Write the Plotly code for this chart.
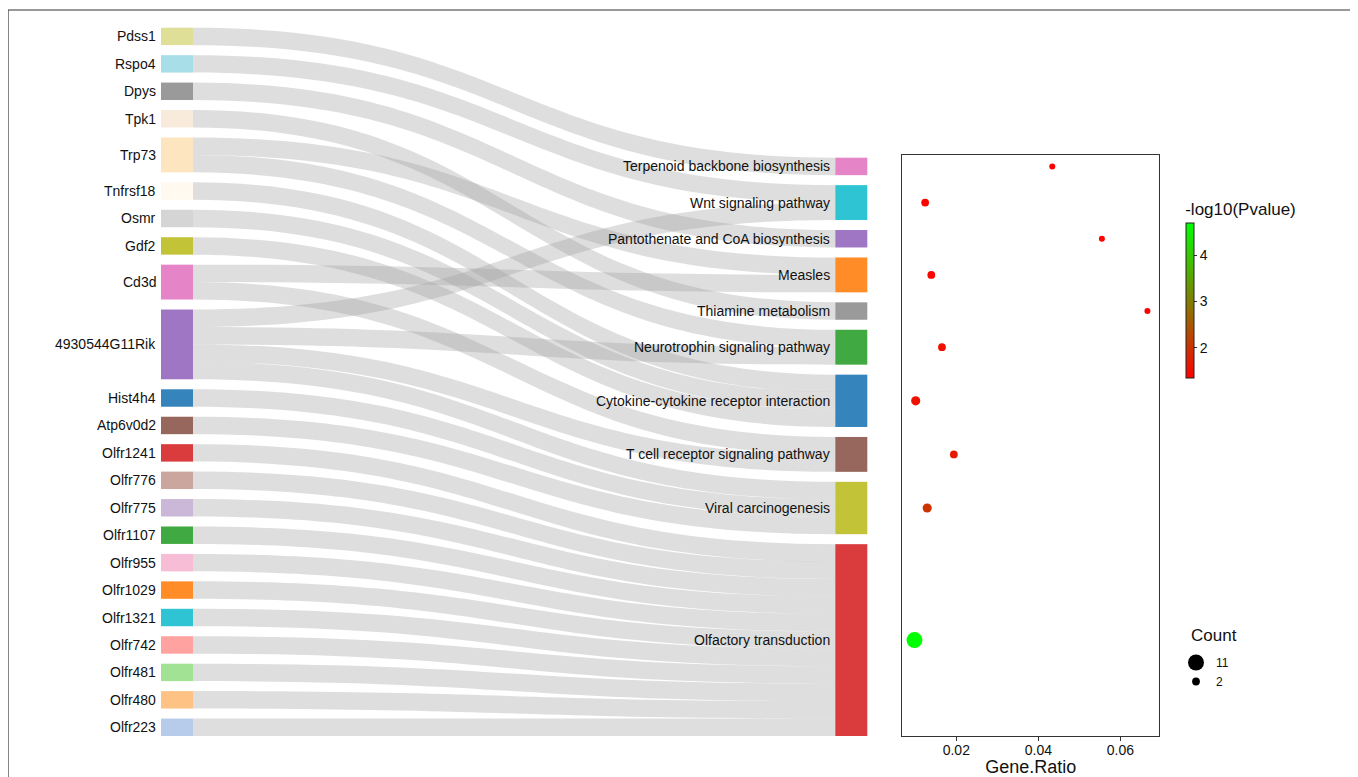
import plotly.graph_objects as go
import math

# ---------------- data ----------------
genes = ["Pdss1", "Rspo4", "Dpys", "Tpk1", "Trp73", "Tnfrsf18", "Osmr", "Gdf2", "Cd3d",
         "4930544G11Rik", "Hist4h4", "Atp6v0d2", "Olfr1241", "Olfr776", "Olfr775", "Olfr1107",
         "Olfr955", "Olfr1029", "Olfr1321", "Olfr742", "Olfr481", "Olfr480", "Olfr223"]
gene_colors = ["#dbdb8d", "#9edae5", "#8f8f8f", "#f7e9d8", "#fde3b8", "#fff8ee", "#d0d0d0", "#bcbd22",
               "#e377c2", "#9467bd", "#1f77b4", "#8c564b", "#d62728", "#c49c94", "#c5b0d5", "#2ca02c",
               "#f7b6d2", "#ff7f0e", "#17becf", "#ff9896", "#98df8a", "#ffbb78", "#aec7e8"]

pathways = ["Terpenoid backbone biosynthesis", "Wnt signaling pathway",
            "Pantothenate and CoA biosynthesis", "Measles", "Thiamine metabolism",
            "Neurotrophin signaling pathway", "Cytokine-cytokine receptor interaction",
            "T cell receptor signaling pathway", "Viral carcinogenesis", "Olfactory transduction"]
pathway_colors = ["#e377c2", "#17becf", "#9467bd", "#ff7f0e", "#8f8f8f", "#2ca02c",
                  "#1f77b4", "#8c564b", "#bcbd22", "#d62728"]

link_source = ["Pdss1", "Rspo4", "Dpys", "Tpk1", "Trp73", "Trp73", "Tnfrsf18", "Osmr", "Gdf2",
               "Cd3d", "Cd3d", "4930544G11Rik", "4930544G11Rik", "4930544G11Rik", "4930544G11Rik",
               "Hist4h4", "Atp6v0d2", "Olfr1241", "Olfr776", "Olfr775", "Olfr1107", "Olfr955",
               "Olfr1029", "Olfr1321", "Olfr742", "Olfr481", "Olfr480", "Olfr223"]
link_target = ["Terpenoid backbone biosynthesis", "Wnt signaling pathway",
               "Pantothenate and CoA biosynthesis", "Thiamine metabolism", "Measles",
               "Neurotrophin signaling pathway", "Cytokine-cytokine receptor interaction",
               "Cytokine-cytokine receptor interaction", "Cytokine-cytokine receptor interaction",
               "Measles", "T cell receptor signaling pathway", "Wnt signaling pathway",
               "Neurotrophin signaling pathway", "T cell receptor signaling pathway",
               "Viral carcinogenesis", "Viral carcinogenesis", "Viral carcinogenesis"] + \
              ["Olfactory transduction"] * 11

gene_ratio = [0.0434, 0.0124, 0.0555, 0.0139, 0.0666, 0.0165, 0.0101, 0.0194, 0.0129, 0.0098]
neg_log10_p = [1.345, 1.40, 1.36, 1.42, 1.345, 1.55, 1.58, 1.68, 2.01, 4.685]
count = [1, 2, 1, 2, 1, 2, 3, 2, 3, 11]
legend_counts = [11, 2]

# ---------------- layout constants (pixels in the browser window) ----------------
OFF = 8                                  # page body margin
W_FIG, H_FIG = 1358 - OFF, 777 - OFF
SK_X0, SK_X1 = 161.0, 867.3              # sankey domain (px)
SK_Y0, SK_Y1 = 27.7, 736.0
NODE_T = 32
PAD = 10
BOX_X0, BOX_X1 = 902.3, 1159.3           # dot plot box
BOX_Y0, BOX_Y1 = 155.0, 735.7
FONT = "Arial, Liberation Sans, Helvetica, sans-serif"


def px_x(p):
    return (p - OFF) / W_FIG


def px_y(p):
    return 1 - (p - OFF) / H_FIG


def rgba(hexc, a=0.9):
    h = hexc.lstrip("#")
    r, g, b = int(h[0:2], 16), int(h[2:4], 16), int(h[4:6], 16)
    return f"rgba({r},{g},{b},{a})"


# ---------------- node positions derived from the link counts ----------------
H = SK_Y1 - SK_Y0
W = SK_X1 - SK_X0
n_links = len(link_source)
ky = (H - (len(genes) - 1) * PAD) / n_links

gene_vals = [link_source.count(g) for g in genes]
path_vals = [link_target.count(p) for p in pathways]

gene_cy = []
acc = 0.0
for v in gene_vals:
    h = v * ky
    gene_cy.append((acc + h / 2) / H)
    acc += h + PAD

right_total = sum(v * ky for v in path_vals) + (len(pathways) - 1) * PAD
acc = H - right_total
path_cy = []
for v in path_vals:
    h = v * ky
    path_cy.append((acc + h / 2) / H)
    acc += h + PAD

labels = genes + pathways
node_x = [NODE_T / 2 / W] * len(genes) + [1 - NODE_T / 2 / W] * len(pathways)
node_y = gene_cy + path_cy
node_colors = [rgba(c) for c in gene_colors + pathway_colors]

idx = {name: i for i, name in enumerate(labels)}

fig = go.Figure()

fig.add_trace(go.Sankey(
    arrangement="fixed",
    domain=dict(x=[px_x(SK_X0), px_x(SK_X1)], y=[px_y(SK_Y1), px_y(SK_Y0)]),
    node=dict(
        label=[""] * len(labels),
        customdata=labels,
        hovertemplate="%{customdata}<extra></extra>",
        x=node_x, y=node_y,
        pad=PAD, thickness=NODE_T,
        color=node_colors,
        line=dict(width=0),
    ),
    link=dict(
        source=[idx[s] for s in link_source],
        target=[idx[t] for t in link_target],
        value=[1] * n_links,
        color="rgba(160,160,160,0.35)",
    ),
))

# labels as annotations
annotations = []
for name, cy in zip(genes, gene_cy):
    annotations.append(dict(
        x=px_x(SK_X0 - 3), y=px_y(SK_Y0 + cy * H), xref="paper", yref="paper",
        text=name, showarrow=False, xanchor="right", yanchor="middle",
        font=dict(family=FONT, size=14, color="#111")))
for name, cy in zip(pathways, path_cy):
    annotations.append(dict(
        x=px_x(SK_X1 - NODE_T - 3), y=px_y(SK_Y0 + cy * H), xref="paper", yref="paper",
        text=name, showarrow=False, xanchor="right", yanchor="middle",
        font=dict(family=FONT, size=14, color="#111")))
annotations.append(dict(
    x=px_x(1189), y=px_y(635), xref="paper", yref="paper", text="Count",
    showarrow=False, xanchor="left", yanchor="middle",
    font=dict(family=FONT, size=17, color="#111")))


# ---------------- dot plot ----------------
def dot_size(c):
    return 4.32 * math.sqrt(c) + 1.68


fig.add_trace(go.Scatter(
    x=gene_ratio, y=path_cy, mode="markers",
    marker=dict(
        size=[dot_size(c) for c in count],
        color=neg_log10_p,
        opacity=1,
        colorscale=[[0, "#ff0000"], [1, "#00ff00"]],
        line=dict(width=0),
        colorbar=dict(
            title=dict(text="-log10(Pvalue)", side="top", font=dict(family=FONT, size=17, color="#111")),
            thickness=8, len=378.3 - 199, lenmode="pixels",
            x=px_x(1185.7), xanchor="left", xpad=0,
            y=px_y(378.3), yanchor="bottom", ypad=0,
            outlinewidth=1, outlinecolor="#222",
            ticks="outside", ticklen=3, tickcolor="#333",
            tickvals=[2, 3, 4], tickfont=dict(family=FONT, size=14, color="#111"),
        ),
    ),
    text=pathways, hovertemplate="%{text}<br>Gene.Ratio=%{x}<extra></extra>",
    showlegend=False,
))

for c in legend_counts:
    fig.add_trace(go.Scatter(
        x=[None], y=[None], mode="markers", name=str(c),
        marker=dict(size=dot_size(c), color="black", opacity=1),
        showlegend=True,
    ))

y_range = [(BOX_Y1 - SK_Y0) / H, (BOX_Y0 - SK_Y0) / H]

fig.update_layout(
    width=W_FIG, height=H_FIG,
    margin=dict(l=0, r=0, t=0, b=0),
    paper_bgcolor="white", plot_bgcolor="white",
    font=dict(family=FONT, color="#111"),
    xaxis=dict(
        domain=[px_x(BOX_X0), px_x(BOX_X1)],
        range=[0.00683, 0.0695], dtick=0.02, tick0=0,
        showgrid=False, zeroline=False,
        showline=True, linecolor="#333", linewidth=1, mirror=True,
        ticks="outside", ticklen=4, tickcolor="#333",
        ticklabelstandoff=-3,
        tickfont=dict(family=FONT, size=14, color="#111"),
        title=dict(text="Gene.Ratio", font=dict(family=FONT, size=18, color="#111"), standoff=3),
        automargin=False,
    ),
    yaxis=dict(
        domain=[px_y(BOX_Y1), px_y(BOX_Y0)],
        range=y_range,
        showgrid=False, zeroline=False, showticklabels=False, ticks="",
        showline=True, linecolor="#333", linewidth=1, mirror=True,
        automargin=False,
    ),
    legend=dict(
        x=px_x(1176), y=px_y(648), xanchor="left", yanchor="top",
        itemsizing="trace", itemwidth=30,
        font=dict(family=FONT, size=12, color="#111"),
        bgcolor="rgba(0,0,0,0)", tracegroupgap=0,
    ),
    annotations=annotations,
    shapes=[dict(type="rect", xref="paper", yref="paper",
                 x0=px_x(8), x1=px_x(1355), y0=-0.05, y1=px_y(10),
                 line=dict(color="#333", width=1.2), fillcolor="rgba(0,0,0,0)", layer="above")],
)

fig.write_html("out.html")
